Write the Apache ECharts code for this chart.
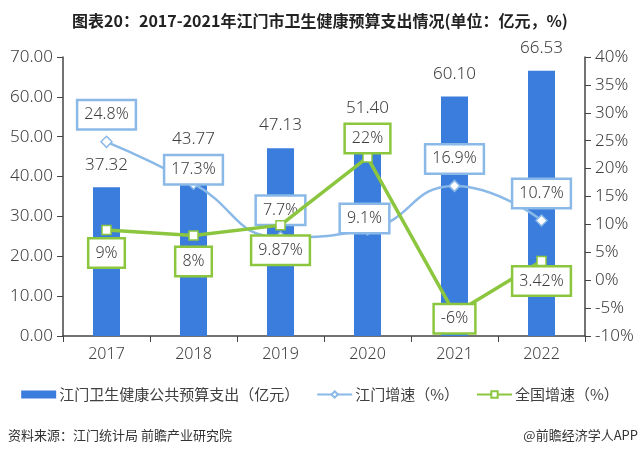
<!DOCTYPE html>
<html><head><meta charset="utf-8">
<script src="https://cdn.jsdelivr.net/npm/echarts@6/dist/echarts.min.js"></script>
<style>html,body{margin:0;padding:0;background:#fff}#c{width:640px;height:458px}</style>
</head><body><div id="c"></div>
<script>
const categories = ['2017','2018','2019','2020','2021','2022'];
const spending = [37.32, 43.77, 47.13, 51.40, 60.10, 66.53];
const jiangmenGrowth = [24.8, 17.3, 7.7, 9.1, 16.9, 10.7];
const nationalGrowth = [9, 8, 9.87, 22, -6, 3.42];
const jiangmenLabels = ['24.8%','17.3%','7.7%','9.1%','16.9%','10.7%'];
const nationalLabels = ['9%','8%','9.87%','22%','-6%','3.42%'];
const leftTicks = {min:0, max:70, interval:10};
const rightTicks = {min:-10, max:40, interval:5};

const FONT = '"Noto Sans", "Noto Sans CJK SC", sans-serif';
const CJK = '"Noto Sans CJK SC", sans-serif';
const BAR = '#3b7ddc', BLUE = '#8ab9e8', GREEN = '#8cc63f', TXT = '#404040';
const blueOff = [[0,-27],[0,-14],[0,-27],[-3,-11],[0,-27],[0,-27]];
const greenOff = [[0,23],[0,26],[0,25],[0,-19],[0,5],[0,20]];

function boxLabel(color, text, off){
  return {show:true, position:'inside', offset:off, formatter:text,
    backgroundColor:'#fff', borderColor:color, borderWidth:2.5,
    padding:[6,6,5,6], color:TXT, fontSize:16, fontWeight:300, fontFamily:FONT};
}

const chart = echarts.init(document.getElementById('c'), null, {renderer:'canvas'});
chart.setOption({
  animation:false,
  backgroundColor:'#fff',
  title:{text:'图表20：2017-2021年江门市卫生健康预算支出情况(单位：亿元，%)', left:'center', top:13, padding:0,
    textStyle:{fontSize:16, fontWeight:'bold', color:'#222', fontFamily:CJK}},
  grid:{left:63, right:55, top:57, bottom:122},
  legend:{top:382, left:'center', itemGap:17, itemWidth:35, itemHeight:8,
    textStyle:{fontSize:15, color:TXT, fontFamily:CJK, padding:[0,0,0,-2]},
    data:[{name:'江门卫生健康公共预算支出（亿元）', icon:'rect', itemHeight:7},'江门增速（%）','全国增速（%）']},
  graphic:[
    {type:'text', left:8, top:429, style:{text:'资料来源：江门统计局 前瞻产业研究院', fill:'#333', font:'13px "Noto Sans CJK SC"'}},
    {type:'text', right:2, top:429, style:{text:'@前瞻经济学人APP', fill:'#333', font:'13px "Noto Sans CJK SC"'}}
  ],
  xAxis:{type:'category', data:categories, axisLine:{lineStyle:{color:'#444', width:1.5}},
    axisTick:{show:true, alignWithLabel:false, length:6, lineStyle:{color:'#444'}},
    axisLabel:{fontSize:16, fontWeight:300, color:TXT, fontFamily:FONT, margin:10}},
  yAxis:[
    {type:'value', min:leftTicks.min, max:leftTicks.max, interval:leftTicks.interval,
      axisLine:{show:true, lineStyle:{color:'#444', width:1.5}}, axisTick:{show:true, length:6, lineStyle:{color:'#444'}},
      splitLine:{show:false},
      axisLabel:{fontSize:17, fontWeight:300, color:TXT, fontFamily:FONT, margin:10, formatter:v=>v.toFixed(2)}},
    {type:'value', min:rightTicks.min, max:rightTicks.max, interval:rightTicks.interval,
      axisLine:{show:true, lineStyle:{color:'#444', width:1.5}}, axisTick:{show:true, length:6, lineStyle:{color:'#444'}},
      splitLine:{show:false},
      axisLabel:{fontSize:17, fontWeight:300, color:TXT, fontFamily:FONT, margin:10, formatter:v=>v+'%'}}
  ],
  series:[
    {name:'江门卫生健康公共预算支出（亿元）', type:'bar', barWidth:27, itemStyle:{color:BAR},
      data:spending,
      label:{show:true, position:'top', distance:5, offset:[0,-9], color:TXT, fontSize:17, fontWeight:300, fontFamily:FONT, formatter:p=>p.value.toFixed(2)}},
    {name:'江门增速（%）', type:'line', yAxisIndex:1, smooth:0.5, symbol:'diamond', symbolSize:11,
      lineStyle:{color:BLUE, width:2.5}, itemStyle:{color:'#fff', borderColor:BLUE, borderWidth:1.5},
      data:jiangmenGrowth.map((v,i)=>({value:v, label:boxLabel(BLUE, jiangmenLabels[i], blueOff[i])})), z:3},
    {name:'全国增速（%）', type:'line', yAxisIndex:1, symbol:'rect', symbolSize:9,
      lineStyle:{color:GREEN, width:3.5}, itemStyle:{color:'#fff', borderColor:GREEN, borderWidth:1.5},
      data:nationalGrowth.map((v,i)=>({value:v, label:boxLabel(GREEN, nationalLabels[i], greenOff[i])})), z:4}
  ]
});
</script></body></html>
